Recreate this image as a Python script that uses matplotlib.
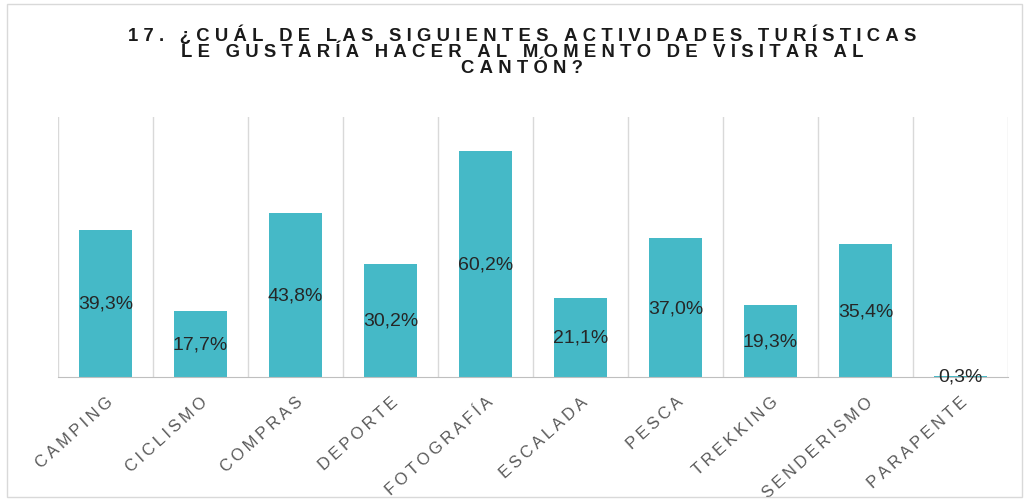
import matplotlib
matplotlib.use("Agg")
import matplotlib.pyplot as plt
import numpy as np
from matplotlib.patches import Rectangle
from matplotlib import font_manager

categories = ["CAMPING", "CICLISMO", "COMPRAS", "DEPORTE", "FOTOGRAFÍA",
              "ESCALADA", "PESCA", "TREKKING", "SENDERISMO", "PARAPENTE"]
values = [39.3, 17.7, 43.8, 30.2, 60.2, 21.1, 37.0, 19.3, 35.4, 0.3]
title_lines = ["17. ¿CUÁL DE LAS SIGUIENTES ACTIVIDADES TURÍSTICAS",
               "LE GUSTARÍA HACER AL MOMENTO DE VISITAR AL",
               "CANTÓN?"]

BAR_COLOR = "#45B9C7"
FONTS = ["Liberation Sans", "DejaVu Sans"]
names = {f.name for f in font_manager.fontManager.ttflist}
print("narrow available:", "Liberation Sans Narrow" in names)
TITLE_FONTS = (["Liberation Sans Narrow"] if "Liberation Sans Narrow" in names else []) + FONTS


def spaced(s, sep="\u2009"):
    # crude letter spacing with thin spaces
    return sep.join(s)


fig = plt.figure(figsize=(10.29, 5.02), dpi=100)
fig.patch.set_facecolor("white")

# outer light border
fig.add_artist(Rectangle((7 / 1029, 4 / 502), 1015 / 1029, 493 / 502,
                         transform=fig.transFigure, fill=False,
                         edgecolor="#d9d9d9", linewidth=1.0))

ax = fig.add_axes([58 / 1029, 124 / 502, 950 / 1029, 260 / 502])
x = np.arange(len(categories))
ax.bar(x, values, width=0.55, color=BAR_COLOR, zorder=2)
ax.set_xlim(-0.5, len(categories) - 0.5)
ax.set_ylim(0, 69.3)

# vertical separators between categories
for b in np.arange(-0.5, len(categories) + 0.5, 1):
    ax.axvline(b, color="#d9d9d9", linewidth=1.0, zorder=1)

for s in ["top", "right", "left"]:
    ax.spines[s].set_visible(False)
ax.spines["bottom"].set_color("#bfbfbf")
ax.set_yticks([])
ax.set_xticks(x)
ax.tick_params(axis="x", length=0, pad=12)
ax.set_xticklabels([spaced(c) for c in categories], rotation=42,
                   ha="right", rotation_mode="anchor", fontsize=12,
                   color="#595959", family=FONTS)

for xi, v in zip(x, values):
    ax.text(xi, v / 2, f"{v:.1f}%".replace(".", ","), ha="center",
            va="center", fontsize=14, color="#262626", family=FONTS,
            zorder=3)

# title as one block so the lines sit tight like the original
if TITLE_FONTS[0] == "Liberation Sans Narrow":
    sep, tsize = "\u2009\u2009", 13.5
else:
    sep, tsize = "\u2009\u200a", 13.3
title = "\n".join(spaced(l, sep) for l in title_lines)
fig.text(522 / 1029, 1 - 51 / 502, title, ha="center", va="center",
         fontsize=tsize, fontweight="bold", color="#1a1a1a",
         family=TITLE_FONTS, linespacing=0.92)

fig.savefig("out.png", dpi=100, facecolor="white")
